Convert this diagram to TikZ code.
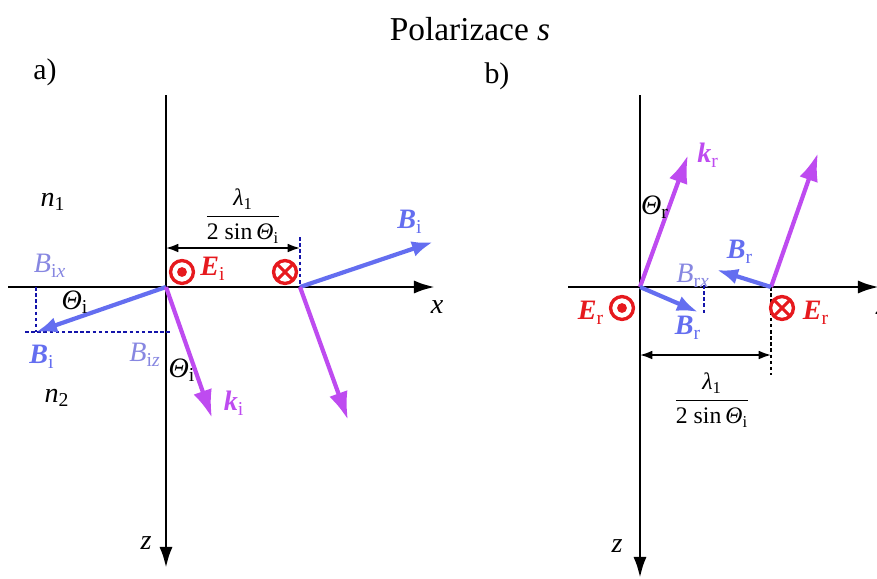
\documentclass[tikz,border=0pt]{standalone}
\usepackage{fontspec}
\setmainfont{Liberation Serif}
\usetikzlibrary{arrows.meta}
\definecolor{kviolet}{RGB}{190,75,240}
\definecolor{bblue}{RGB}{100,110,240}
\definecolor{blight}{RGB}{135,135,225}
\definecolor{dnavy}{RGB}{20,20,170}
\definecolor{ered}{RGB}{230,25,30}
\newcommand{\bfit}[2]{\textbf{\textit{#1}}\textsubscript{#2}}
\newcommand{\itsub}[2]{\textit{#1}\textsubscript{#2}}
\newcommand{\lamfrac}{$\displaystyle\frac{\mbox{\textit{λ}\textsubscript{1}}}{\mbox{2 sin\,\textit{Θ}\textsubscript{i}}}$}
\begin{document}
\begin{tikzpicture}[x=0.02cm, y=-0.02cm,
  lbl/.style={font=\fontsize{16}{18}\selectfont, inner sep=0pt},
  small/.style={font=\fontsize{13.5}{15}\selectfont, inner sep=0pt},
  axisline/.style={line width=1.7pt, -{Latex[length=12pt,width=7.5pt]}},
  kvec/.style={kviolet, line width=2.4pt, -{Latex[length=16pt,width=11pt]}},
  bvec/.style={bblue, line width=2.4pt, -{Latex[length=12pt,width=9pt]}},
  proj/.style={dnavy, line width=0.9pt, dash pattern=on 2pt off 1.5pt},
  dim/.style={line width=1pt, {Latex[length=7pt,width=5pt]}-{Latex[length=7pt,width=5pt]}},
  outof/.style={circle, draw=ered, line width=1.9pt, minimum size=13pt, inner sep=0pt,
    path picture={\fill[ered] (path picture bounding box.center) circle (2.8pt);}},
  into/.style={circle, draw=ered, line width=1.9pt, minimum size=13pt, inner sep=0pt,
    path picture={\draw[ered, line width=1.7pt]
      (path picture bounding box.north west) -- (path picture bounding box.south east)
      (path picture bounding box.north east) -- (path picture bounding box.south west);}}]
\clip (0,0) rectangle (877,579);
\node[font=\fontsize{19}{22}\selectfont] (title) at (470,29) {Polarizace \textit{s}};
\node[font=\fontsize{17}{20}\selectfont] (la) at (45,72) {a)};
\node[font=\fontsize{17}{20}\selectfont] (lb) at (497,76) {b)};

% a) incident wave
\coordinate (Oa) at (166,287);
\coordinate (Pa) at (300,287);
\coordinate (za0) at (166,95);
\coordinate (za1) at (166,568);
\coordinate (xa0) at (8,287);
\coordinate (xa1) at (435,287);
\coordinate (Bi) at (36,332);
\coordinate (Bix) at (36,287);
\coordinate (bz0) at (25,332);
\coordinate (bz1) at (170,332);
\coordinate (ki) at (212,418);
\coordinate (Bi2) at (433,242);
\coordinate (ki2) at (348,420);
\coordinate (da0) at (166,248);
\coordinate (da1) at (300,248);
\coordinate (dt) at (300,237);
\draw[axisline] (za0) -- (za1);
\draw[axisline] (xa0) -- (xa1);
\draw[proj] (Bix) -- (Bi);
\draw[proj] (bz0) -- (bz1);
\draw[proj] (dt) -- (Pa);
\draw[dim] (da0) -- (da1);
\draw[bvec] (Oa) -- (Bi);
\draw[kvec] (Oa) -- (ki);
\draw[bvec] (Pa) -- (Bi2);
\draw[kvec] (Pa) -- (ki2);
\node[outof] (Ea) at (182,272) {};
\node[into] (Ea2) at (285,272) {};
\node[lbl] (n1) at (53,202) {\itsub{n}{1}};
\node[lbl] (n2) at (57,398) {\itsub{n}{2}};
\node[small] (fa) at (243,216) {\lamfrac};
\node[lbl, text=ered] (Ei) at (213,269) {\bfit{E}{i}};
\node[lbl, text=blight] (bixl) at (50,266) {\itsub{B}{i\textit{x}}};
\node[lbl, text=blight] (bizl) at (145,355) {\itsub{B}{i\textit{z}}};
\node[lbl, text=bblue] (bil) at (42,357) {\bfit{B}{i}};
\node[lbl, text=bblue] (bi2l) at (410,222) {\bfit{B}{i}};
\node[lbl] (tha) at (75,302) {\itsub{Θ}{i}};
\node[lbl] (thb) at (182,370) {\itsub{Θ}{i}};
\node[lbl, text=kviolet] (kil) at (234,403) {\bfit{k}{i}};
\node[lbl] (xla) at (437,307) {\textit{x}};
\node[lbl] (zla) at (146,543) {\textit{z}};

% b) reflected wave
\coordinate (Ob) at (640,287);
\coordinate (Pb) at (771,287);
\coordinate (zb0) at (640,95);
\coordinate (zb1) at (640,578);
\coordinate (xb0) at (568,287);
\coordinate (xb1) at (879,287);
\coordinate (kr) at (688,155);
\coordinate (kr2) at (818,153);
\coordinate (Br) at (717,270);
\coordinate (Br2) at (698,312);
\coordinate (bx0) at (704,285);
\coordinate (bx1) at (704,315);
\coordinate (dl) at (771,375);
\coordinate (db0) at (640,355);
\coordinate (db1) at (771,355);
\draw[axisline] (zb0) -- (zb1);
\draw[axisline] (xb0) -- (xb1);
\draw[proj] (bx0) -- (bx1);
\draw[line width=0.9pt, dash pattern=on 2pt off 1.5pt] (Pb) -- (dl);
\draw[dim] (db0) -- (db1);
\draw[kvec] (Ob) -- (kr);
\draw[kvec] (Pb) -- (kr2);
\draw[bvec] (Pb) -- (Br);
\draw[bvec] (Ob) -- (Br2);
\node[outof] (Eb) at (622,308) {};
\node[into] (Eb2) at (782,308) {};
\node[lbl, text=ered] (Erl) at (591,313) {\bfit{E}{r}};
\node[lbl, text=ered] (Er2l) at (816,313) {\bfit{E}{r}};
\node[lbl, text=kviolet] (krl) at (708,155) {\bfit{k}{r}};
\node[lbl] (thr) at (655,207) {\itsub{Θ}{r}};
\node[lbl, text=bblue] (brl) at (740,252) {\bfit{B}{r}};
\node[lbl, text=blight] (brxl) at (693,276) {\itsub{B}{r\textit{x}}};
\node[lbl, text=bblue] (br2l) at (688,328) {\bfit{B}{r}};
\node[small] (fb) at (712,400) {\lamfrac};
\node[lbl] (xlb) at (882,308) {\textit{x}};
\node[lbl] (zlb) at (617,546) {\textit{z}};
\end{tikzpicture}
\end{document}
